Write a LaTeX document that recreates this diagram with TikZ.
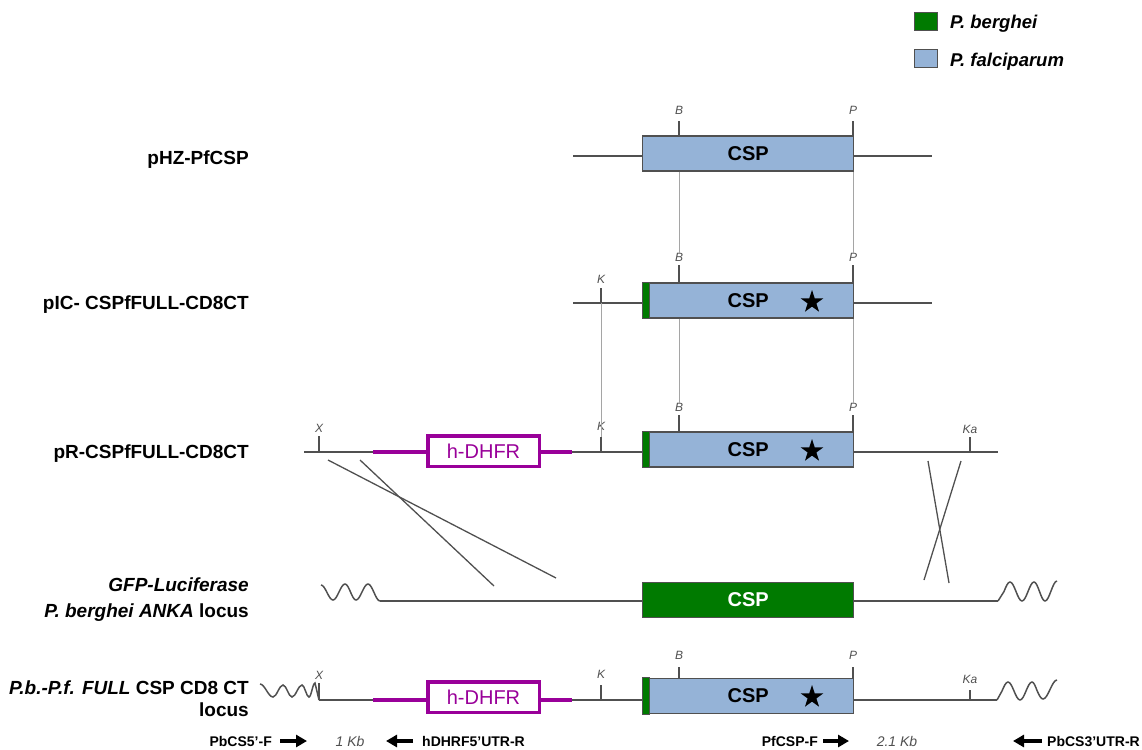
\documentclass[tikz,border=0pt]{standalone}
\usepackage{fontspec}
\setmainfont{Liberation Sans}
\usetikzlibrary{shapes.geometric,arrows.meta}
\definecolor{pbgreen}{RGB}{0,122,0}
\definecolor{pfblue}{RGB}{149,179,215}
\definecolor{dhfr}{RGB}{153,0,153}
\definecolor{dna}{RGB}{80,80,80}
\definecolor{guide}{RGB}{165,165,165}
\tikzset{
 dnaline/.style={draw=dna, line width=1.6pt},
 guideline/.style={draw=guide, line width=1pt},
 cspbox/.style={draw=dna, line width=1.3pt, fill=pfblue, minimum width=211pt, minimum height=35pt, inner sep=0pt, anchor=west, font=\bfseries\fontsize{20}{24}\selectfont},
 pbbox/.style={cspbox, fill=pbgreen, text=white},
 greenstrip/.style={fill=pbgreen, draw=dna, line width=1pt},
 dhfrbox/.style={draw=dhfr, line width=3.5pt, fill=white, minimum width=111.5pt, minimum height=30.5pt, text=dhfr, font=\fontsize{20}{24}\selectfont, inner sep=0pt},
 dhfrline/.style={draw=dhfr, line width=4pt},
 rowlabel/.style={anchor=base east, font=\bfseries\fontsize{19}{22}\selectfont, inner sep=0pt},
 site/.style={font=\itshape\fontsize{12}{14}\selectfont, inner sep=0pt, text=dna},
 tick/.style={draw=dna, line width=1.3pt},
 primer/.style={font=\bfseries\fontsize{14}{16}\selectfont, inner sep=0pt},
 sizelbl/.style={font=\itshape\fontsize{14}{16}\selectfont, inner sep=0pt, text=dna, anchor=base},
 primerarrow/.style={line width=4pt, -{Triangle[length=11pt,width=12pt]}},
 staricon/.style={star, star points=5, star point ratio=2.6, fill=black, minimum size=24pt, inner sep=0pt},
 legendbox/.style={draw=dna, line width=1pt, minimum width=23pt, minimum height=18pt, inner sep=0pt},
 legendtext/.style={anchor=base west, font=\bfseries\itshape\fontsize{18.5}{22}\selectfont, inner sep=0pt},
 wave/.style={draw=dna, line width=1.5pt},
}
\begin{document}
\begin{tikzpicture}[x=1pt,y=-1pt]
\useasboundingbox (0,0) rectangle (1142,749);

% ---------- legend ----------
\node[legendbox, fill=pbgreen] (lg1) at (926,21.5) {};
\node[legendtext] (lt1) at (950,28.6) {P. berghei};
\node[legendbox, fill=pfblue] (lg2) at (926,58.5) {};
\node[legendtext] (lt2) at (950,66.6) {P. falciparum};

% ---------- row labels ----------
\node[rowlabel] (l1) at (249,164.8) {pHZ-PfCSP};
\node[rowlabel] (l2) at (249,309.8) {pIC- CSPfFULL-CD8CT};
\node[rowlabel] (l3) at (249,458.8) {pR-CSPfFULL-CD8CT};
\node[rowlabel] (l4a) at (249,591.8) {\itshape GFP-Luciferase};
\node[rowlabel] (l4b) at (249,617.8) {\textit{P. berghei ANKA} locus};
\node[rowlabel] (l5a) at (249,694.8) {\textit{P.b.-P.f. FULL} CSP CD8 CT};
\node[rowlabel] (l5b) at (249,716.8) {locus};

% ---------- row 1 : pHZ-PfCSP ----------
\coordinate (r1s) at (573,156);
\coordinate (r1e) at (932,156);
\node[cspbox] (c1) at (642,153.5) {CSP};
\draw[dnaline] (r1s) -- (c1.west |- r1s);
\draw[dnaline] (c1.east |- r1e) -- (r1e);
\coordinate (b1) at (679,136);
\coordinate (p1) at (853,136);
\draw[tick] (b1) -- ++(0,-15) coordinate (b1t);
\draw[tick] (p1) -- ++(0,-15) coordinate (p1t);
\node[site] (b1l) at (679,110) {B};
\node[site] (p1l) at (853,110) {P};

% ---------- row 2 : pIC ----------
\coordinate (r2s) at (573,303);
\coordinate (r2e) at (932,303);
\node[cspbox] (c2) at (642,300.5) {CSP};
\draw[dnaline] (r2s) -- (c2.west |- r2s);
\draw[dnaline] (c2.east |- r2e) -- (r2e);
\draw[greenstrip] (c2.north west) rectangle ([xshift=7pt]c2.south west);
\node[staricon] (s2) at (812,302) {};
\coordinate (b2) at (679,283);
\coordinate (p2) at (853,283);
\coordinate (k2) at (601,303);
\draw[tick] (b2) -- ++(0,-18) coordinate (b2t);
\draw[tick] (p2) -- ++(0,-18) coordinate (p2t);
\draw[tick] (k2) -- ++(0,-15) coordinate (k2t);
\node[site] (b2l) at (679,257) {B};
\node[site] (p2l) at (853,257) {P};
\node[site] (k2l) at (601,279) {K};

% ---------- row 3 : pR ----------
\coordinate (r3s) at (304,452);
\coordinate (r3e) at (998,452);
\coordinate (m3a) at (373,452);
\coordinate (m3b) at (572,452);
\node[cspbox] (c3) at (642,449.5) {CSP};
\node[dhfrbox] (d3) at (483.5,451) {h-DHFR};
\draw[dnaline] (r3s) -- (m3a);
\draw[dnaline] (m3b) -- (c3.west |- m3b);
\draw[dnaline] (c3.east |- r3e) -- (r3e);
\draw[dhfrline] (m3a) -- (d3.west |- m3a);
\draw[dhfrline] (d3.east |- m3b) -- (m3b);
\draw[greenstrip] (c3.north west) rectangle ([xshift=7pt]c3.south west);
\node[staricon] (s3) at (812,451) {};
\coordinate (b3) at (679,432);
\coordinate (p3) at (853,432);
\coordinate (k3) at (601,452);
\coordinate (x3) at (319,452);
\coordinate (ka3) at (970,452);
\draw[tick] (b3) -- ++(0,-17) coordinate (b3t);
\draw[tick] (p3) -- ++(0,-17) coordinate (p3t);
\draw[tick] (k3) -- ++(0,-15) coordinate (k3t);
\draw[tick] (x3) -- ++(0,-16) coordinate (x3t);
\draw[tick] (ka3) -- ++(0,-15) coordinate (ka3t);
\node[site] (b3l) at (679,407) {B};
\node[site] (p3l) at (853,407) {P};
\node[site] (k3l) at (601,426) {K};
\node[site] (x3l) at (319,428) {X};
\node[site] (ka3l) at (970,429) {Ka};

% ---------- guide lines ----------
\draw[guideline] (c1.south -| b1) -- (b2l.north);
\draw[guideline] (c1.south -| p1) -- (p2l.north);
\draw[guideline] (c2.south -| b2) -- (b3l.north);
\draw[guideline] (c2.south -| p2) -- (p3l.north);
\draw[guideline] (k2) -- (k3t);

% ---------- row 4 : P. berghei ANKA locus ----------
\coordinate (r4s) at (380,601);
\coordinate (r4e) at (998,601);
\node[pbbox] (c4) at (642,600) {CSP};
\draw[dnaline] (r4s) -- (c4.west |- r4s);
\draw[dnaline] (c4.east |- r4e) -- (r4e);
\draw[wave] (321,585) cos (327,592.5) sin (333,600) cos (339,592) sin (345,584) cos (350.5,592) sin (356,600) cos (362,592) sin (368,584) cos (374,592.5) sin (r4s);
\draw[wave] (r4e) -- (1004,591.5) sin (1010,582) cos (1016,591.5) sin (1022,601) cos (1028,591.5) sin (1034,582) cos (1039.5,591.5) sin (1045,601) cos (1051,591) sin (1057,581);

% ---------- crossovers ----------
\coordinate (xa1) at (328,460); \coordinate (xa2) at (556,578);
\coordinate (xb1) at (360,460); \coordinate (xb2) at (494,586);
\coordinate (xc1) at (928,461); \coordinate (xc2) at (949,583);
\coordinate (xd1) at (961,461); \coordinate (xd2) at (924,580);
\draw[dna, line width=1.3pt] (xa1) -- (xa2);
\draw[dna, line width=1.3pt] (xb1) -- (xb2);
\draw[dna, line width=1.3pt] (xc1) -- (xc2);
\draw[dna, line width=1.3pt] (xd1) -- (xd2);

% ---------- row 5 : recombinant locus ----------
\coordinate (r5s) at (319,700);
\coordinate (r5e) at (997,700);
\coordinate (m5a) at (373,700);
\coordinate (m5b) at (572,700);
\node[cspbox] (c5) at (642,696) {CSP};
\node[dhfrbox] (d5) at (483.5,697) {h-DHFR};
\draw[dnaline] (r5s) -- (m5a);
\draw[dnaline] (m5b) -- (c5.west |- m5b);
\draw[dnaline] (c5.east |- r5e) -- (r5e);
\draw[dhfrline] (m5a) -- (d5.west |- m5a);
\draw[dhfrline] (d5.east |- m5b) -- (m5b);
\draw[greenstrip] (c5.north west) rectangle ([xshift=7pt]c5.south west);
\node[staricon] (s5) at (812,697) {};
\draw[wave] (260,684) cos (266.5,690.5) sin (273,697) cos (278,691) sin (283,685) cos (287.5,691) sin (292,697) cos (297,691) sin (302,685) cos (305.5,691) sin (309,697) cos (312,690) sin (315,683) -- (r5s);
\draw[wave] (r5e) -- (1002,691) sin (1008,682) cos (1014,691) sin (1020,700) cos (1026,691) sin (1032,682) cos (1037,690.5) sin (1043,699) cos (1050,689.5) sin (1057,680);
\coordinate (b5) at (679,678);
\coordinate (p5) at (853,678);
\coordinate (k5) at (601,700);
\coordinate (x5) at (319,700);
\coordinate (ka5) at (970,700);
\draw[tick] (b5) -- ++(0,-11) coordinate (b5t);
\draw[tick] (p5) -- ++(0,-11) coordinate (p5t);
\draw[tick] (k5) -- ++(0,-15) coordinate (k5t);
\draw[tick] (x5) -- ++(0,-17) coordinate (x5t);
\draw[tick] (ka5) -- ++(0,-10) coordinate (ka5t);
\node[site] (b5l) at (679,655) {B};
\node[site] (p5l) at (853,655) {P};
\node[site] (k5l) at (601,674) {K};
\node[site] (x5l) at (319,675) {X};
\node[site] (ka5l) at (970,679) {Ka};

% ---------- primers ----------
\node[primer, anchor=base east] (pr1) at (272,746) {PbCS5’-F};
\coordinate (a1s) at (280,741); \coordinate (a1e) at (307,741);
\draw[primerarrow] (a1s) -- (a1e);
\node[sizelbl] (kb1) at (350,746) {1 Kb};
\coordinate (a2s) at (413,741); \coordinate (a2e) at (386,741);
\draw[primerarrow] (a2s) -- (a2e);
\node[primer, anchor=base west] (pr2) at (422,746) {hDHRF5’UTR-R};
\node[primer, anchor=base east] (pr3) at (818,746) {PfCSP-F};
\coordinate (a3s) at (823,741); \coordinate (a3e) at (849,741);
\draw[primerarrow] (a3s) -- (a3e);
\node[sizelbl] (kb2) at (897,746) {2.1 Kb};
\coordinate (a4s) at (1042,741); \coordinate (a4e) at (1013,741);
\draw[primerarrow] (a4s) -- (a4e);
\node[primer, anchor=base west] (pr4) at (1047,746) {PbCS3’UTR-R};
\end{tikzpicture}
\end{document}
